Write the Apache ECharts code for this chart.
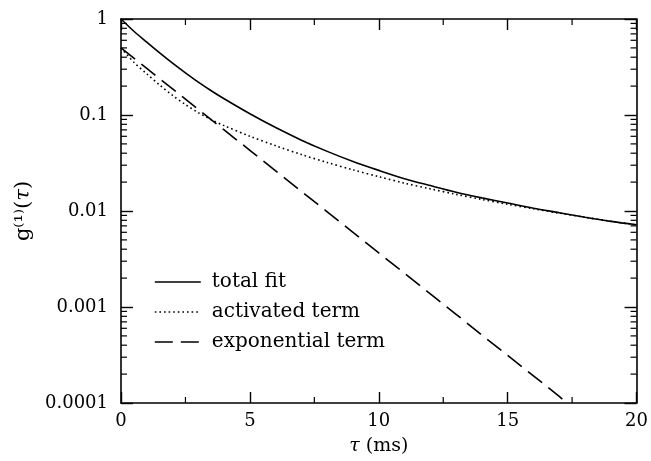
<!DOCTYPE html>
<html>
<head>
<meta charset="utf-8">
<script src="https://cdn.jsdelivr.net/npm/echarts@6/dist/echarts.min.js"></script>
<style>html,body{margin:0;padding:0;background:#fff}#c{width:651px;height:461px}</style>
</head>
<body>
<div id="c"></div>
<script>
// ---- data ----
const tauTotal = [0, 0.5, 1, 1.5, 2, 2.5, 3, 3.5, 4, 5, 6, 7, 8, 9, 10, 11, 12, 13, 14, 15, 16, 17, 18, 19, 20];
const totalFit = [1.0, 0.745, 0.574, 0.444, 0.347, 0.275, 0.220, 0.179, 0.1475, 0.103, 0.074, 0.0547, 0.0418, 0.0328, 0.0265, 0.0217, 0.0184, 0.0157, 0.0137, 0.0121, 0.0107, 0.0096, 0.0086, 0.0078, 0.0072];
const tauActivated = [0, 0.5, 1, 1.5, 2, 2.5, 3, 3.5, 4, 5, 6, 7, 8, 9, 10, 11, 12, 13, 14, 15, 16, 17, 18, 19, 20];
const activatedTerm = [0.5, 0.354, 0.268, 0.205, 0.160, 0.1285, 0.1057, 0.0895, 0.0775, 0.0601, 0.0478, 0.0387, 0.032, 0.0268, 0.0228, 0.0195, 0.017, 0.0149, 0.0132, 0.01175, 0.01054, 0.0095, 0.0086, 0.00783, 0.00716];
const tauExp = [0, 1, 2, 3, 4, 5, 6, 7, 8, 9, 10, 11, 12, 13, 14, 15, 16, 17, 17.3];
const exponentialTerm = [0.5, 0.306, 0.187, 0.114, 0.070, 0.0428, 0.0262, 0.016, 0.0098, 0.006, 0.00366, 0.00224, 0.00137, 0.00084, 0.00051, 0.000313, 0.000192, 0.000117, 0.0001];
const seriesNames = ['total fit', 'activated term', 'exponential term'];
const xTickLabels = ['0', '5', '10', '15', '20'];
const yTickLabels = ['0.0001', '0.001', '0.01', '0.1', '1'];

const FONT = 'DejaVu Serif';
const DOT = [1.6, 3], DASH = [18, 8];
const zip = (xs, ys) => xs.map((x, i) => [x, ys[i]]);

const chart = echarts.init(document.getElementById('c'), null, {renderer: 'canvas'});
const axisLine = () => ({show: true, onZero: false, lineStyle: {color: '#000', width: 1.6}});
const xCommon = () => ({
  type: 'value', min: 0, max: 20, interval: 5,
  axisLine: axisLine(),
  axisTick: {show: true, inside: true, length: 11, lineStyle: {color: '#000', width: 1.4}},
  splitLine: {show: false}
});
const yCommon = () => ({
  type: 'log', logBase: 10, min: 0.0001, max: 1,
  axisLine: axisLine(),
  axisTick: {show: true, inside: true, length: 12, lineStyle: {color: '#000', width: 1.4}},
  splitLine: {show: false}
});
chart.setOption({
  animation: false,
  backgroundColor: '#fff',
  grid: {left: 121, right: 11, top: 19, bottom: 54, containLabel: false},
  legend: {
    show: true, orient: 'vertical', left: 149, top: 267,
    itemWidth: 46, itemHeight: 14, itemGap: 10,
    itemStyle: {color: 'rgba(0,0,0,0)', borderWidth: 0, opacity: 0},
    data: [
      {name: seriesNames[0], lineStyle: {type: 'solid', color: '#000', width: 1.6}},
      {name: seriesNames[1], lineStyle: {type: DOT, color: '#000', width: 1.6}},
      {name: seriesNames[2], lineStyle: {type: DASH, color: '#000', width: 1.6}}
    ],
    textStyle: {fontFamily: FONT, fontSize: 20, color: '#000', padding: [0, 0, 0, 6]}
  },
  xAxis: [
    Object.assign(xCommon(), {
      position: 'bottom',
      axisLabel: {color: '#000', fontFamily: FONT, fontSize: 18, margin: 9,
        formatter: v => xTickLabels[Math.round(v / 5)]},
      name: '{i|τ} (ms)', nameLocation: 'middle', nameGap: 34,
      nameTextStyle: {fontFamily: FONT, fontSize: 19, color: '#000',
        rich: {i: {fontFamily: FONT, fontSize: 19, fontStyle: 'italic', color: '#000'}}}
    }),
    Object.assign(xCommon(), {position: 'top', axisLabel: {show: false}})
  ],
  yAxis: [
    Object.assign(yCommon(), {
      position: 'left',
      axisLabel: {color: '#000', fontFamily: FONT, fontSize: 18, margin: 13,
        formatter: v => yTickLabels[Math.round(Math.log10(v)) + 4]},
      name: 'g⁽¹⁾({i|τ})', nameLocation: 'middle', nameGap: 86, nameRotate: 90,
      nameTextStyle: {fontFamily: FONT, fontSize: 21, color: '#000',
        rich: {i: {fontFamily: FONT, fontSize: 21, fontStyle: 'italic', color: '#000'}}}
    }),
    Object.assign(yCommon(), {position: 'right', axisLabel: {show: false}})
  ],
  series: [
    {name: seriesNames[0], type: 'line', data: zip(tauTotal, totalFit), smooth: 0.3, color: '#000',
      showSymbol: false, symbol: 'none', lineStyle: {color: '#000', width: 1.6, type: 'solid'}, z: 3},
    {name: seriesNames[1], type: 'line', data: zip(tauActivated, activatedTerm), smooth: 0.3, color: '#000',
      showSymbol: false, symbol: 'none', lineStyle: {color: '#000', width: 1.6, type: DOT}, z: 3},
    {name: seriesNames[2], type: 'line', data: zip(tauExp, exponentialTerm), color: '#000',
      showSymbol: false, symbol: 'none', lineStyle: {color: '#000', width: 1.6, type: DASH}, z: 3}
  ]
});

// minor ticks (2..9 in each decade on both y sides; every 2.5 on both x sides), placed via the axes' scales
const minorEls = [];
const tick = (x1, y1, x2, y2) => ({type: 'line', z: 10,
  shape: {x1: x1, y1: y1, x2: x2, y2: y2}, style: {stroke: '#000', lineWidth: 1.2}});
for (let k = -4; k < 0; k++) for (let m = 2; m <= 9; m++) {
  const v = m * Math.pow(10, k);
  const l = chart.convertToPixel({gridIndex: 0}, [0, v]);
  const r = chart.convertToPixel({gridIndex: 0}, [20, v]);
  minorEls.push(tick(l[0], l[1], l[0] + 6, l[1]));
  minorEls.push(tick(r[0], r[1], r[0] - 6, r[1]));
}
[2.5, 7.5, 12.5, 17.5].forEach(t => {
  const b = chart.convertToPixel({gridIndex: 0}, [t, 0.0001]);
  const tp = chart.convertToPixel({gridIndex: 0}, [t, 1]);
  minorEls.push(tick(b[0], b[1], b[0], b[1] - 6));
  minorEls.push(tick(tp[0], tp[1], tp[0], tp[1] + 6));
});
chart.setOption({graphic: {elements: minorEls}});
</script>
</body>
</html>
